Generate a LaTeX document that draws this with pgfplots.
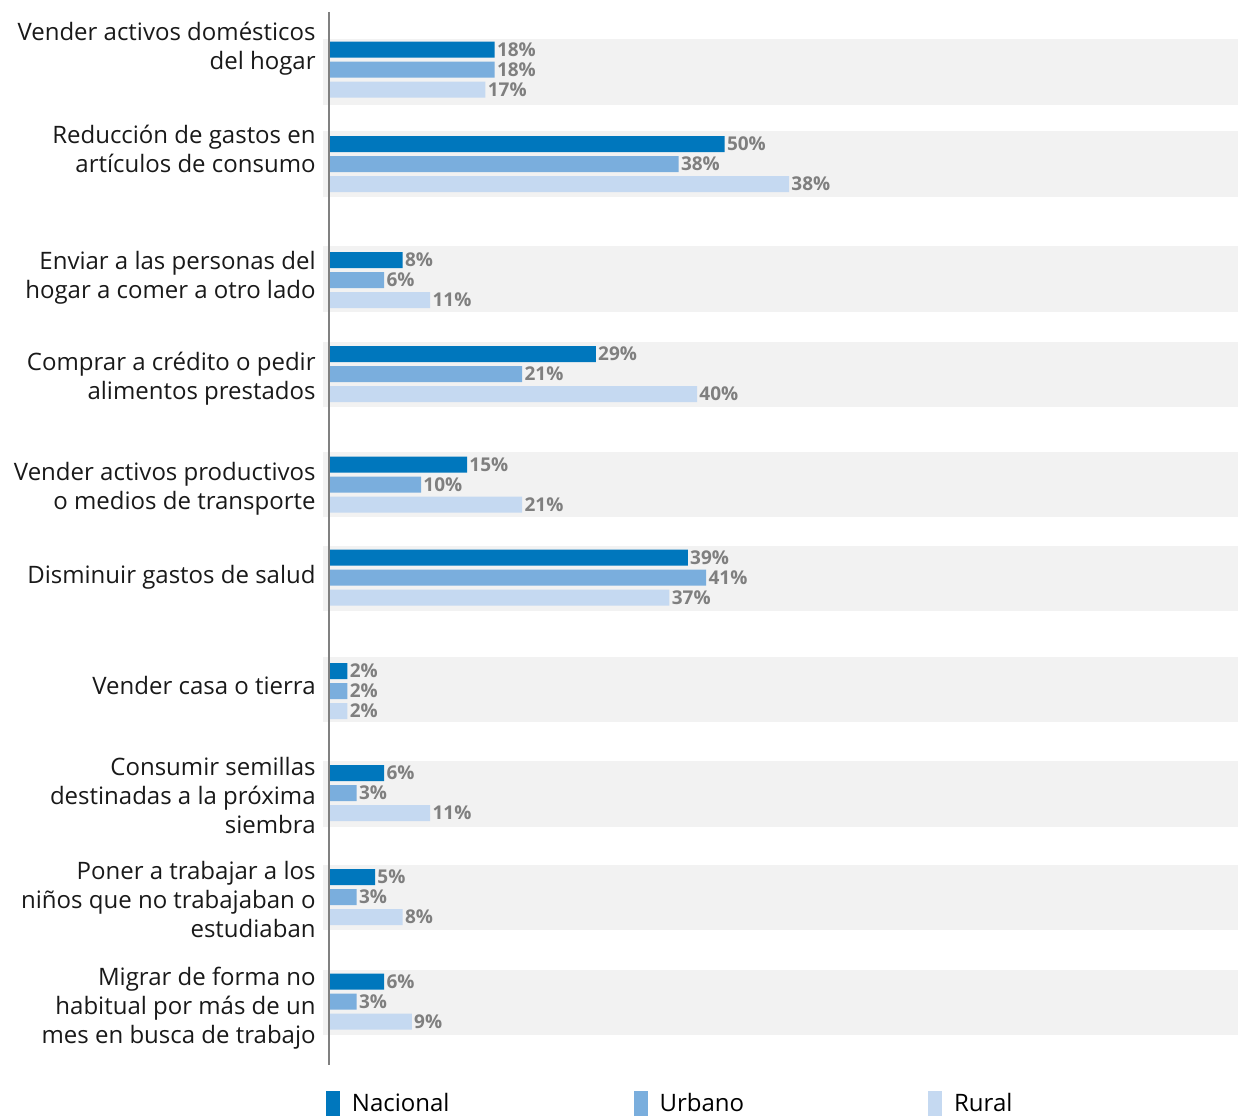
\documentclass[border=0pt]{standalone}
\usepackage{fontspec}
\setmainfont{Open Sans}
\usepackage{pgfplots}
\pgfplotsset{compat=1.18}
\definecolor{nac}{HTML}{0077BD}
\definecolor{urb}{HTML}{7AAEDD}
\definecolor{rur}{HTML}{C5D9F1}
\definecolor{band}{HTML}{F2F2F2}
\definecolor{lblgray}{HTML}{7F7F7F}
\definecolor{axgray}{HTML}{808080}
\begin{document}
\begin{tikzpicture}
\begin{axis}[
  set layers,
  x=4.6pt, y=0.5pt, y dir=reverse,
  xmin=-0.652, xmax=98.8, ymin=0, ymax=1116,
  clip=false,
  axis line style={draw=none},
  xtick=\empty,
  major tick length=0pt,
  ytick={48.5,148.5,277.5,378.5,489,577,685,795,899,1008},
  yticklabels={{Vender activos domésticos\\del hogar},
    {Reducción de gastos en\\artículos de consumo},
    {Enviar a las personas del\\hogar a comer a otro lado},
    {Comprar a crédito o pedir\\alimentos prestados},
    {Vender activos productivos\\o medios de transporte},
    {Disminuir gastos de salud},
    {Vender casa o tierra},
    {Consumir semillas\\destinadas a la próxima\\siembra},
    {Poner a trabajar a los\\niños que no trabajaban o\\estudiaban},
    {Migrar de forma no\\habitual por más de un\\mes en busca de trabajo}},
  yticklabel style={align=right, font=\fontsize{12}{14.5}\selectfont, inner sep=0pt, xshift=-3.5pt, text=black!90},
  xbar, bar width=8pt,
  point meta=explicit symbolic,
  nodes near coords,
  nodes near coords style={font=\bfseries\fontsize{9.5}{10}\selectfont, text=lblgray, anchor=west, inner sep=1pt},
  legend columns=3,
  legend style={at={(axis cs:-0.33,1103.5)}, anchor=west, draw=none, fill=none, inner sep=0pt, outer sep=0pt,
    font=\fontsize{12}{14}\selectfont,
    /tikz/every odd column/.append style={column sep=4pt},
    /tikz/every even column/.append style={column sep=90pt}},
  legend cell align=left,
  legend image code/.code={\fill[#1, draw=none] (0pt,-6.25pt) rectangle (7pt,6.25pt);},
]
\begin{pgfonlayer}{axis background}
\fill[band] (axis cs:-0.652,39) rectangle (axis cs:98.8,105);
\fill[band] (axis cs:-0.652,131) rectangle (axis cs:98.8,197);
\fill[band] (axis cs:-0.652,246) rectangle (axis cs:98.8,312);
\fill[band] (axis cs:-0.652,342) rectangle (axis cs:98.8,407);
\fill[band] (axis cs:-0.652,452) rectangle (axis cs:98.8,517);
\fill[band] (axis cs:-0.652,546) rectangle (axis cs:98.8,611);
\fill[band] (axis cs:-0.652,657) rectangle (axis cs:98.8,722);
\fill[band] (axis cs:-0.652,761) rectangle (axis cs:98.8,827);
\fill[band] (axis cs:-0.652,865) rectangle (axis cs:98.8,930);
\fill[band] (axis cs:-0.652,970) rectangle (axis cs:98.8,1035);
\end{pgfonlayer}
\addplot[fill=nac, draw=none, bar shift=0pt] table[meta=lab] {
x y lab
18 49.7 18\%
43 144 50\%
8 260 8\%
29 354 29\%
15 464.5 15\%
39 557.5 39\%
2 671 2\%
6 773 6\%
5 877 5\%
6 981.5 6\%
};
\addplot[fill=urb, draw=none, bar shift=0pt] table[meta=lab] {
x y lab
18 69.7 18\%
38 164 38\%
6 280 6\%
21 374 21\%
10 484.5 10\%
41 577.5 41\%
2 691 2\%
3 793 3\%
3 897 3\%
3 1001.5 3\%
};
\addplot[fill=rur, draw=none, bar shift=0pt] table[meta=lab] {
x y lab
17 89.7 17\%
50 184 38\%
11 300 11\%
40 394 40\%
21 504.5 21\%
37 597.5 37\%
2 711 2\%
11 813 11\%
8 917 8\%
9 1021.5 9\%
};
\legend{Nacional,Urbano,Rural}
\draw[axgray, line width=1pt] (axis cs:0,12) -- (axis cs:0,1065);
\coordinate (bbsw) at (axis cs:-35.76,1116);
\coordinate (bbne) at (axis cs:98.8,0);
\end{axis}
\pgfresetboundingbox
\path[use as bounding box] (bbsw) rectangle (bbne);
\end{tikzpicture}
\end{document}
